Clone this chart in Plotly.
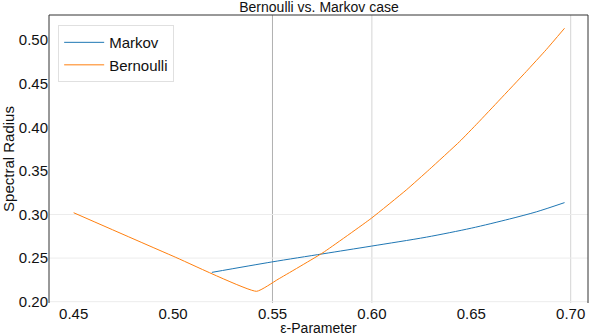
import plotly.graph_objects as go

# Data
bern_eps = [0.45, 0.50, 0.542, 0.5528, 0.5754, 0.5997, 0.6173, 0.6290, 0.6441,
            0.6533, 0.6642, 0.6776, 0.6877, 0.6969]
bern_val = [0.302, 0.2522, 0.2119, 0.2257, 0.2562, 0.2956, 0.3281, 0.3518, 0.3835,
            0.4050, 0.4313, 0.4638, 0.4890, 0.5135]

markov_eps = [0.5195, 0.5495, 0.5754, 0.5997, 0.6274, 0.6500, 0.6692, 0.6827, 0.6969]
markov_val = [0.2336, 0.2455, 0.2549, 0.2637, 0.2740, 0.2843, 0.2948, 0.3030, 0.3136]

x_ticks = [0.45, 0.50, 0.55, 0.60, 0.65, 0.70]
x_tick_text = ["0.45", "0.50", "0.55", "0.60", "0.65", "0.70"]
y_ticks = [0.20, 0.25, 0.30, 0.35, 0.40, 0.45, 0.50]
y_tick_text = ["0.20", "0.25", "0.30", "0.35", "0.40", "0.45", "0.50"]

FONT = "Liberation Sans, Arial, sans-serif"

fig = go.Figure()
fig.add_trace(go.Scatter(x=markov_eps, y=markov_val, mode="lines", name="Markov",
                         line=dict(color="#1f77b4", width=1, shape="spline", smoothing=0.8)))
fig.add_trace(go.Scatter(x=bern_eps, y=bern_val, mode="lines", name="Bernoulli",
                         line=dict(color="#ff7f0e", width=1, shape="spline", smoothing=0.4)))

shapes = []
# vertical grid lines (visible ones)
for xv, col in [(0.55, "#b0b0b0"), (0.60, "#d4d4d4"), (0.70, "#d4d4d4")]:
    shapes.append(dict(type="line", xref="x", yref="paper", x0=xv, x1=xv, y0=0, y1=1,
                       line=dict(color=col, width=1), layer="below"))
# horizontal grid lines (visible ones)
for yv in [0.20, 0.25, 0.30]:
    shapes.append(dict(type="line", xref="paper", yref="y", x0=0, x1=1, y0=yv, y1=yv,
                       line=dict(color="#ececec", width=1), layer="below"))
# frame: left, top, right
for x0, y0, x1, y1 in [(0, 0, 0, 1), (0, 1, 1, 1), (1, 0, 1, 1)]:
    shapes.append(dict(type="line", xref="paper", yref="paper", x0=x0, x1=x1, y0=y0, y1=y1,
                       line=dict(color="#333333", width=1)))

fig.update_layout(
    width=590, height=336,
    margin=dict(l=49, r=2, t=15, b=33),
    paper_bgcolor="white", plot_bgcolor="white",
    font=dict(family=FONT, color="#111111"),
    title=dict(text="Bernoulli vs. Markov case", x=0.5407, xanchor="center",
               y=0.978, yanchor="middle", font=dict(size=14, family=FONT), automargin=False),
    showlegend=True,
    legend=dict(x=0.017, y=0.965, xanchor="left", yanchor="top",
                bgcolor="white", bordercolor="#e0e0e0", borderwidth=1,
                itemwidth=40, font=dict(size=15, family=FONT), tracegroupgap=0),
    shapes=shapes,
)
fig.update_xaxes(range=[0.4376, 0.7087], tickvals=x_ticks, ticktext=x_tick_text,
                 showgrid=False, zeroline=False, showline=False, automargin=False,
                 ticks="", tickfont=dict(size=15, family=FONT),
                 title=dict(text="ε-Parameter", font=dict(size=14, family=FONT), standoff=0))
fig.update_yaxes(range=[0.1985, 0.5287], tickvals=y_ticks, ticktext=y_tick_text,
                 showgrid=False, zeroline=False, showline=False, automargin=False,
                 ticks="", tickfont=dict(size=15, family=FONT),
                 title=dict(text="Spectral Radius", font=dict(size=15, family=FONT), standoff=0))

fig.write_html("out.html", config={"displayModeBar": False},
               post_script="document.body.style.margin='0';document.body.style.overflow='hidden';")
